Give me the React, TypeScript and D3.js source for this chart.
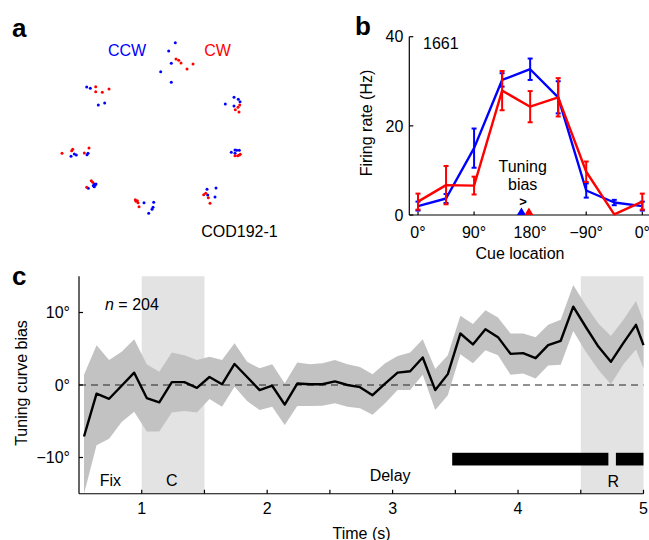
import React from "react";
import * as d3 from "d3";

// ---------- Panel a: saccade endpoints ----------
const ccwPoints: [number, number][] = [
  [175.3, 42.7], [168.7, 51], [171.3, 63.3], [160.7, 71.7], [171.3, 82.3],
  [86.7, 87], [90.3, 88.3], [98.3, 105], [104.7, 103],
  [71, 156.3], [74.3, 154], [76.3, 155], [87, 154.7], [88, 153.3],
  [94, 184], [95.3, 185], [93.3, 185.7], [96, 184], [88.3, 188.3], [94.3, 186.7],
  [144, 202.7], [153.7, 202.3], [153, 207.3], [152, 209.3], [148.7, 213.3],
  [207, 189.3], [216, 188], [207.7, 195], [215, 197],
  [235, 150], [236.7, 150.3], [239.3, 150.3], [231.3, 152.3], [235, 153.3],
  [234, 97.3], [238.3, 99.3], [240, 101.7], [225.3, 104], [234, 106],
];
const cwPoints: [number, number][] = [
  [176, 59], [178.7, 60.3], [181, 63], [187, 69], [193, 64],
  [95.7, 86.7], [95.7, 91.7], [102.3, 92.3], [109, 89],
  [62, 153.3], [71.7, 150.7], [72.7, 149.3], [84.3, 153], [89, 148],
  [91.3, 180.7], [86.7, 187.3], [92.7, 182.3],
  [135.3, 199.7], [137.3, 200.7], [138, 202.7], [139, 206.7], [136, 201.3],
  [203.7, 194.7], [205.7, 193.3], [208.3, 197.7], [210, 203.3],
  [235, 155.7], [239.3, 155], [240.3, 154.3], [237.7, 155.7],
  [239.7, 105], [238, 107.3], [235.3, 109.7], [239, 112],
];

// ---------- Panel b: tuning curves ----------
const cues = [0, 45, 90, 135, 180, 225, 270, 315, 360];
const cueTicks = [0, 90, 180, 270, 360];
const cueTickLabels = ["0°", "90°", "180°", "−90°", "0°"];
const rateTicks = [0, 20, 40];
const ccwMean = [2.0, 3.7, 15.0, 30.3, 32.7, 26.4, 5.5, 2.8, 2.0];
const ccwErr = [1.0, 1.0, 4.4, 1.5, 2.4, 3.6, 1.6, 0.6, 1.0];
const cwMean = [3.0, 6.7, 6.6, 27.9, 24.3, 26.4, 9.7, 0.15, 3.0];
const cwErr = [1.8, 4.3, 2.0, 4.4, 3.5, 4.3, 2.3, 0, 1.8];
const ccwPref = 166;
const cwPref = 178;

// ---------- Panel c: tuning curve bias over time ----------
const times = [
  0.54, 0.64, 0.74, 0.84, 0.94, 1.04, 1.14, 1.24, 1.34, 1.44, 1.54, 1.64,
  1.74, 1.84, 1.94, 2.04, 2.14, 2.24, 2.34, 2.44, 2.54, 2.64, 2.74, 2.84,
  2.94, 3.04, 3.14, 3.24, 3.34, 3.44, 3.54, 3.64, 3.74, 3.84, 3.94, 4.04,
  4.14, 4.24, 4.34, 4.44, 4.54, 4.64, 4.74, 4.84, 4.94, 5.0,
];
const biasMean = [
  -7.1, -1.2, -1.9, -0.1, 1.7, -1.8, -2.4, 0.4, 0.4, -0.4, 1.1, 0.1, 2.9,
  1.1, -0.7, -0.1, -2.7, 0.2, 0.1, 0.1, 0.5, 0.0, -0.3, -1.4, 0.2, 1.7, 1.9,
  3.8, -0.7, 1.5, 7.1, 5.6, 7.7, 6.6, 4.3, 4.4, 3.7, 5.5, 6.1, 10.8, 8.0,
  5.3, 3.2, 5.8, 8.3, 5.5,
];
const biasUpper = [
  1.4, 5.5, 3.45, 4.6, 6.3, 2.85, 1.84, 4.5, 4.1, 3.45, 3.9, 3.45, 5.75,
  3.2, 2.3, 2.85, 0.23, 3.1, 2.85, 3.0, 3.45, 2.85, 2.5, 1.47, 3.0, 4.0, 4.5,
  6.3, 2.2, 4.1, 9.56, 8.4, 10.3, 9.3, 7.1, 7.1, 6.6, 8.3, 9.0, 13.8, 11.0,
  8.5, 6.75, 9.0, 11.6, 8.8,
];
const biasLower = [
  -15, -8.3, -7.4, -5.1, -3.7, -6.4, -6.4, -3.8, -3.6, -3.8, -1.93, -3.0,
  -0.23, -2.2, -3.45, -3.0, -5.5, -2.9, -2.9, -2.85, -2.5, -3.0, -3.2, -4.1,
  -2.5, -0.7, -0.7, 1.4, -3.45, -1.4, 4.23, 3.0, 4.8, 4.1, 1.4, 1.6, 0.9,
  2.7, 2.8, 7.45, 4.6, 2.1, 0.1, 2.85, 4.9, 2.3,
];
const epochShades: [number, number][] = [[1, 1.5], [4.5, 5]];
const epochLabels = ["Fix", "C", "Delay", "R"];
const epochLabelTimes = [0.75, 1.24, 2.98, 4.76];
const sigBars: [number, number][] = [[3.475, 4.72], [4.78, 5.0]];
const timeTicks = [1, 1.5, 2, 2.5, 3, 3.5, 4, 4.5, 5];
const timeTickLabels = [1, 2, 3, 4, 5];
const biasTicks = [-10, 0, 10];
const biasTickLabels = ["−10°", "0°", "10°"];

const FONT = "'Liberation Sans', Arial, Helvetica, sans-serif";
const FS = 16;
const BLUE = "#0000ff";
const RED = "#ff0000";

function PanelB() {
  const x = d3.scaleLinear().domain([0, 360]).range([418, 642.3]);
  const y = d3.scaleLinear().domain([0, 40]).range([215, 36.7]);
  const line = d3
    .line<number>()
    .x((_, i) => x(cues[i]))
    .y((d) => y(d));
  const series = [
    { mean: ccwMean, err: ccwErr, color: BLUE },
    { mean: cwMean, err: cwErr, color: RED },
  ];
  const axisX = x(0) - 8.7;
  return (
    <g fontFamily={FONT}>
      <line x1={axisX} x2={axisX} y1={y(40)} y2={y(0)} stroke="#000" strokeWidth={1.2} />
      <line x1={axisX} x2={649} y1={y(0)} y2={y(0)} stroke="#000" strokeWidth={1.2} />
      {rateTicks.map((t) => (
        <g key={t}>
          <line x1={axisX} x2={axisX + 4} y1={y(t)} y2={y(t)} stroke="#000" strokeWidth={1.2} />
          <text x={axisX - 6} y={y(t) + 5.7} fontSize={FS} textAnchor="end">
            {t}
          </text>
        </g>
      ))}
      {cueTicks.map((t, i) => (
        <g key={i}>
          <line x1={x(t)} x2={x(t)} y1={y(0)} y2={y(0) - 3.5} stroke="#000" strokeWidth={1.2} />
          <text x={x(t)} y={237.8} fontSize={FS} textAnchor="middle">
            {cueTickLabels[i]}
          </text>
        </g>
      ))}
      <text x={520} y={258.8} fontSize={FS} textAnchor="middle">
        Cue location
      </text>
      <text transform={`translate(371.5,123) rotate(-90)`} fontSize={FS} textAnchor="middle">
        Firing rate (Hz)
      </text>
      <text x={423} y={48.8} fontSize={FS}>
        1661
      </text>
      <text x={522.7} y={172.3} fontSize={FS} textAnchor="middle">
        Tuning
      </text>
      <text x={522.7} y={190.3} fontSize={FS} textAnchor="middle">
        bias
      </text>
      <text x={523} y={205.5} fontSize={13} fontWeight="bold" textAnchor="middle">
        {">"}
      </text>
      {series.map((s, si) => (
        <g key={si}>
          <path d={line(s.mean) || ""} fill="none" stroke={s.color} strokeWidth={2.4} strokeLinejoin="round" />
          {s.mean.map((m, i) =>
            s.err[i] > 0 ? (
              <g key={i} stroke={s.color} strokeWidth={2}>
                <line x1={x(cues[i])} x2={x(cues[i])} y1={y(m - s.err[i])} y2={y(m + s.err[i])} />
                <line x1={x(cues[i]) - 2.5} x2={x(cues[i]) + 2.5} y1={y(m - s.err[i])} y2={y(m - s.err[i])} />
                <line x1={x(cues[i]) - 2.5} x2={x(cues[i]) + 2.5} y1={y(m + s.err[i])} y2={y(m + s.err[i])} />
              </g>
            ) : null
          )}
        </g>
      ))}
      {[
        { v: ccwPref, c: BLUE },
        { v: cwPref, c: RED },
      ].map((p, i) => (
        <path
          key={i}
          d={`M${x(p.v) - 4.5},${y(0)} L${x(p.v) + 4.5},${y(0)} L${x(p.v)},${y(0) - 7.5} Z`}
          fill={p.c}
        />
      ))}
    </g>
  );
}

function PanelC() {
  const x = d3.scaleLinear().domain([0.5, 5]).range([79, 643.5]);
  const y = d3.scaleLinear().domain([-15, 15]).range([493.75, 276.25]);
  const area = d3
    .area<number>()
    .x((_, i) => x(times[i]))
    .y0((_, i) => y(Math.max(-15, biasLower[i])))
    .y1((d) => y(d));
  const line = d3
    .line<number>()
    .x((_, i) => x(times[i]))
    .y((d) => y(d));
  return (
    <g fontFamily={FONT}>
      {epochShades.map(([a, b], i) => (
        <rect key={i} x={x(a)} y={y(15)} width={x(b) - x(a)} height={y(-15) - y(15)} fill="#e3e3e3" />
      ))}
      <path d={area(biasUpper) || ""} fill="#c2c2c2" />
      <line x1={x(0.5)} x2={x(5)} y1={y(0)} y2={y(0)} stroke="#222" strokeWidth={1} strokeDasharray="7,5" />
      <path d={line(biasMean) || ""} fill="none" stroke="#000" strokeWidth={2.4} strokeLinejoin="round" />
      {sigBars.map(([a, b], i) => (
        <rect key={i} x={x(a)} y={y(-9.35)} width={x(b) - x(a)} height={y(-11.1) - y(-9.35)} fill="#000" />
      ))}
      <line x1={x(0.5)} x2={x(0.5)} y1={y(15)} y2={y(-15)} stroke="#000" strokeWidth={1.2} />
      <line x1={x(0.5)} x2={x(5)} y1={y(-15)} y2={y(-15)} stroke="#000" strokeWidth={1.2} />
      {biasTicks.map((t, i) => (
        <g key={t}>
          <line x1={x(0.5)} x2={x(0.5) + 4} y1={y(t)} y2={y(t)} stroke="#000" strokeWidth={1.2} />
          <text x={70} y={y(t) + 5.7} fontSize={FS} textAnchor="end">
            {biasTickLabels[i]}
          </text>
        </g>
      ))}
      {timeTicks.map((t) => (
        <line key={t} x1={x(t)} x2={x(t)} y1={y(-15)} y2={y(-15) - 4} stroke="#000" strokeWidth={1.2} />
      ))}
      {timeTickLabels.map((t) => (
        <text key={t} x={x(t)} y={513.8} fontSize={FS} textAnchor="middle">
          {t}
        </text>
      ))}
      <text x={361.5} y={538.5} fontSize={FS} textAnchor="middle">
        Time (s)
      </text>
      <text transform={`translate(27,383) rotate(-90)`} fontSize={FS} textAnchor="middle">
        Tuning curve bias
      </text>
      {epochLabels.map((l, i) => (
        <text
          key={l}
          x={x(epochLabelTimes[i])}
          y={l === "Delay" ? 480.8 : l === "R" ? 487.3 : 485.8}
          fontSize={FS}
          textAnchor="middle"
        >
          {l}
        </text>
      ))}
      <text x={105} y={310.3} fontSize={FS}>
        <tspan fontStyle="italic">n</tspan> = 204
      </text>
    </g>
  );
}

function PanelA() {
  return (
    <g fontFamily={FONT}>
      {ccwPoints.map(([px, py], i) => (
        <circle key={"b" + i} cx={px} cy={py} r={1.5} fill={BLUE} />
      ))}
      {cwPoints.map(([px, py], i) => (
        <circle key={"r" + i} cx={px} cy={py} r={1.5} fill={RED} />
      ))}
      <text x={127} y={55.8} fontSize={FS} fill={BLUE} textAnchor="middle">
        CCW
      </text>
      <text x={217.5} y={55.8} fontSize={FS} fill={RED} textAnchor="middle">
        CW
      </text>
      <text x={239.5} y={237.3} fontSize={FS} textAnchor="middle">
        COD192-1
      </text>
    </g>
  );
}

export default function App() {
  return (
    <svg
      width={649}
      height={540}
      viewBox="0 0 649 540"
      style={{ position: "absolute", left: 0, top: 0, background: "#fff" }}
    >
      <rect width={649} height={540} fill="#fff" />
      <g fontFamily={FONT} fontWeight="bold" fontSize={26}>
        <text x={12} y={37}>a</text>
        <text x={355} y={35}>b</text>
        <text x={12} y={285}>c</text>
      </g>
      <PanelA />
      <PanelB />
      <PanelC />
    </svg>
  );
}
